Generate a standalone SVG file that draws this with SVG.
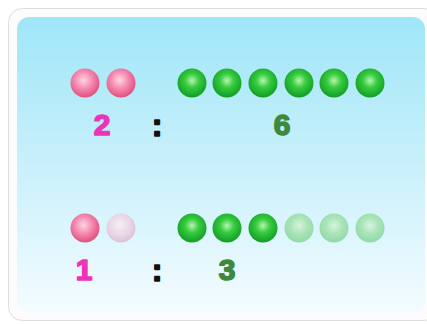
<svg xmlns="http://www.w3.org/2000/svg" width="427" height="324" viewBox="0 0 427 324">
<defs>
<linearGradient id="bg" x1="0" y1="0" x2="0" y2="1">
<stop offset="0" stop-color="#9fe6f8"/>
<stop offset="0.5" stop-color="#c9f0fb"/>
<stop offset="1" stop-color="#f4fcff"/>
</linearGradient>
<radialGradient id="pink" cx="0.45" cy="0.4" r="0.6">
<stop offset="0" stop-color="#ffd6e4"/>
<stop offset="0.5" stop-color="#f58ab0"/>
<stop offset="1" stop-color="#e0507f"/>
</radialGradient>
<radialGradient id="pinkf" cx="0.45" cy="0.4" r="0.6">
<stop offset="0" stop-color="#f6eef4"/>
<stop offset="0.6" stop-color="#e9d6e6"/>
<stop offset="1" stop-color="#dcc2d8"/>
</radialGradient>
<radialGradient id="green" cx="0.5" cy="0.42" r="0.6">
<stop offset="0" stop-color="#b8f4b0"/>
<stop offset="0.4" stop-color="#38cc40"/>
<stop offset="1" stop-color="#0e9a22"/>
</radialGradient>
<radialGradient id="greenf" cx="0.5" cy="0.42" r="0.6">
<stop offset="0" stop-color="#d6f4dc"/>
<stop offset="0.5" stop-color="#a9e4b8"/>
<stop offset="1" stop-color="#90d8a6"/>
</radialGradient>
</defs>
<style>
.num{font-family:"Liberation Sans",Arial,sans-serif;font-weight:bold;font-size:30px;text-anchor:middle;stroke-width:1.6px;stroke-linejoin:round}
.p{fill:#ee33bb;stroke:#ee33bb}
.g{fill:#3c8a3c;stroke:#3c8a3c}
.c{fill:#111;stroke:#111;font-size:32px}
</style>
<rect x="0" y="0" width="427" height="324" fill="#ffffff"/>
<rect x="8.5" y="8.5" width="430" height="312" rx="14" fill="#fefbfd" stroke="#dddddd"/>
<rect x="17" y="17" width="408" height="296" rx="12" fill="url(#bg)"/>
<g id="row1">
<circle cx="85" cy="83" r="14.5" fill="url(#pink)"/>
<circle cx="121" cy="83" r="14.5" fill="url(#pink)"/>
<circle cx="192" cy="83" r="14.5" fill="url(#green)"/>
<circle cx="227" cy="83" r="14.5" fill="url(#green)"/>
<circle cx="263" cy="83" r="14.5" fill="url(#green)"/>
<circle cx="299" cy="83" r="14.5" fill="url(#green)"/>
<circle cx="334" cy="83" r="14.5" fill="url(#green)"/>
<circle cx="370" cy="83" r="14.5" fill="url(#green)"/>
<text class="num p" x="102" y="135">2</text>
<text class="num c" x="157" y="136">:</text>
<text class="num g" x="282" y="135">6</text>
</g>
<g id="row2">
<circle cx="85" cy="228" r="14.5" fill="url(#pink)"/>
<circle cx="121" cy="228" r="14.5" fill="url(#pinkf)"/>
<circle cx="192" cy="228" r="14.5" fill="url(#green)"/>
<circle cx="227" cy="228" r="14.5" fill="url(#green)"/>
<circle cx="263" cy="228" r="14.5" fill="url(#green)"/>
<circle cx="299" cy="228" r="14.5" fill="url(#greenf)"/>
<circle cx="334" cy="228" r="14.5" fill="url(#greenf)"/>
<circle cx="370" cy="228" r="14.5" fill="url(#greenf)"/>
<text class="num p" x="84" y="280">1</text>
<text class="num c" x="157" y="281">:</text>
<text class="num g" x="227" y="280">3</text>
</g>
</svg>
